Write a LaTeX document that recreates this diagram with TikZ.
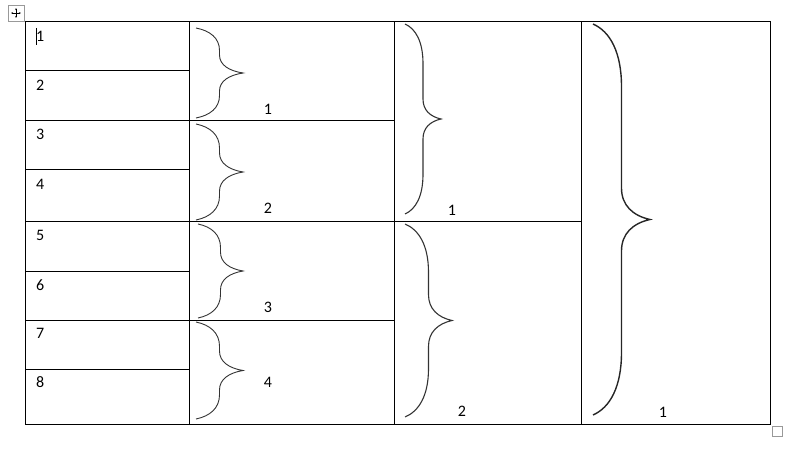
\documentclass[tikz,border=0pt]{standalone}
\usepackage{fontspec}
\setmainfont{Carlito}
\usetikzlibrary{arrows.meta}

% right curly brace: [style] x left, y top, y bottom, x tip
\newcommand{\rightbrace}[5][]{%
  \pgfmathsetmacro{\bw}{#5-#2}%
  \pgfmathsetmacro{\bh}{(#4-#3)/2}%
  \pgfmathsetmacro{\bm}{(#3+#4)/2}%
  \pgfmathsetmacro{\bx}{#2+0.5*\bw}%
  \pgfmathsetmacro{\ba}{min(0.5*\bh,1.1*\bw)}%
  \pgfmathsetmacro{\bb}{min(0.4*\bh,0.55*\bw)}%
  \draw[brace,#1] (#2,#3) .. controls (#2+0.3*\bw,#3+0.12*\ba) and (\bx,#3+0.45*\ba) .. (\bx,#3+\ba)
    -- (\bx,\bm-\bb) .. controls (\bx,\bm-0.45*\bb) and (#5-0.3*\bw,\bm-0.12*\bb) .. (#5,\bm)
    .. controls (#5-0.3*\bw,\bm+0.12*\bb) and (\bx,\bm+0.45*\bb) .. (\bx,\bm+\bb)
    -- (\bx,#4-\ba) .. controls (\bx,#4-0.45*\ba) and (#2+0.3*\bw,#4-0.12*\ba) .. (#2,#4);}

\begin{document}
\begin{tikzpicture}[
    x=1pt, y=-1pt,
    grid/.style={draw=black, line width=1pt},
    brace/.style={draw=black!80, line width=0.9pt},
    bigbrace/.style={draw=black!85, line width=1.4pt},
    num/.style={font=\fontsize{16}{19}\selectfont, inner sep=0pt},
    handle/.style={draw=black!40, line width=0.8pt}
]
\useasboundingbox (0,0) rectangle (797,449);

% table frame and cell lines
\draw[grid] (25,22) rectangle (770,424);
\draw[grid] (189,22) -- (189,424);
\draw[grid] (394,22) -- (394,424);
\draw[grid] (581,22) -- (581,424);
\draw[grid] (25,71) -- (189,71);
\draw[grid] (25,121) -- (394,121);
\draw[grid] (25,170) -- (189,170);
\draw[grid] (25,221) -- (581,221);
\draw[grid] (25,271) -- (189,271);
\draw[grid] (25,320) -- (394,320);
\draw[grid] (25,369) -- (189,369);

% first column
\node[num, anchor=west] (a1) at (36,36) {1};
\node[num, anchor=west] (a2) at (36,85) {2};
\node[num, anchor=west] (a3) at (36,134) {3};
\node[num, anchor=west] (a4) at (36,184) {4};
\node[num, anchor=west] (a5) at (36,235) {5};
\node[num, anchor=west] (a6) at (36,285) {6};
\node[num, anchor=west] (a7) at (36,333) {7};
\node[num, anchor=west] (a8) at (36,382) {8};
\draw[line width=0.7pt] (36,28) -- (36,45);

% second column
\rightbrace{196}{28}{118}{243}
\rightbrace{196}{124}{220}{243}
\rightbrace{198}{224}{318}{243}
\rightbrace{196}{322}{419}{243}
\node[num] (b1) at (268,109) {1};
\node[num] (b2) at (268,208) {2};
\node[num] (b3) at (268,307) {3};
\node[num] (b4) at (268,382) {4};

% third column
\rightbrace[line width=1.1pt]{405}{24}{214}{441}
\rightbrace[line width=1.1pt]{405}{224}{417}{452}
\node[num] (c1) at (452,210) {1};
\node[num] (c2) at (462,411) {2};

% fourth column
\rightbrace[bigbrace]{593}{24}{415}{650}
\node[num] (d1) at (663,412) {1};

% table handles
\draw[handle] (8,5) rectangle (24,21);
\draw[line width=0.5pt, {Stealth[length=2pt]}-{Stealth[length=2pt]}] (11,13) -- (21,13);
\draw[line width=0.5pt, {Stealth[length=2pt]}-{Stealth[length=2pt]}] (16,8) -- (16,18);
\draw[handle] (772,426) rectangle (782,436);
\end{tikzpicture}
\end{document}
